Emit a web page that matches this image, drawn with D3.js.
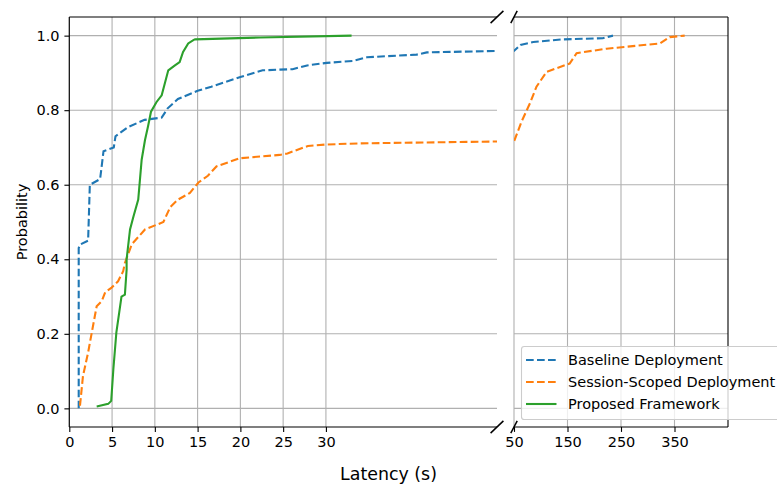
<!DOCTYPE html>
<html>
<head>
<meta charset="utf-8">
<script src="https://cdn.jsdelivr.net/npm/d3@7"></script>
<style>
  body { margin: 0; background: #fff; overflow: hidden; }
  text { font-family: "DejaVu Sans", sans-serif; }
</style>
</head>
<body>
<script>
// ECDF points: [latency (s), probability]
var baseline = [[1.1,0],[1.1,0.43],[1.3,0.44],[2.2,0.45],[2.4,0.60],[3.6,0.615],[4.0,0.69],[5.2,0.70],
  [5.4,0.73],[6.9,0.755],[8.8,0.774],[10.8,0.78],[11.5,0.805],[12.7,0.83],[15.0,0.852],[16.6,0.863],
  [18.2,0.875],[20.0,0.889],[22.6,0.907],[26.1,0.91],[27.8,0.92],[30.1,0.927],[33.1,0.932],[34.8,0.942],
  [40.6,0.949],[41.8,0.955],[50,0.959],[62,0.975],[86,0.983],[141,0.99],[216,0.993],[235,1.0]]
var sessionScoped = [[1.25,0.007],[1.6,0.087],[2.2,0.15],[2.6,0.2],[3.2,0.274],[3.8,0.288],[4.2,0.312],
  [4.95,0.324],[5.7,0.341],[6.3,0.368],[6.5,0.39],[7.3,0.44],[8.85,0.48],[11.0,0.50],[11.8,0.54],
  [12.7,0.56],[14.1,0.578],[15.1,0.606],[16.2,0.624],[17.2,0.649],[19.9,0.671],[24.6,0.68],[25.5,0.684],
  [27.9,0.704],[30.1,0.708],[34,0.711],[50,0.716],[64,0.769],[80,0.819],[92,0.863],[111,0.903],
  [154,0.925],[167,0.953],[223,0.965],[323,0.979],[341,0.996],[369,1.0]]
var proposed = [[3.2,0.005],[4.55,0.012],[4.9,0.02],[5.15,0.105],[5.5,0.203],[6.1,0.30],[6.5,0.305],
  [6.7,0.372],[6.7,0.40],[7.1,0.48],[7.5,0.515],[8.06,0.56],[8.46,0.667],[8.85,0.72],[9.2,0.756],
  [9.55,0.796],[10.2,0.822],[10.8,0.84],[11.57,0.907],[12.35,0.92],[12.9,0.929],[13.3,0.956],
  [13.9,0.979],[14.5,0.988],[14.7,0.99],[22.3,0.995],[33,1.0]]

var seriesNames = ["Baseline Deployment", "Session-Scoped Deployment", "Proposed Framework"]
var seriesData = [baseline, sessionScoped, proposed]
var seriesColors = ["#1f77b4", "#ff7f0e", "#2ca02c"]
var seriesDash = ["7.7,3.3", "7.7,3.3", null]

var leftTicks = [0, 5, 10, 15, 20, 25, 30]
var rightTicks = [50, 150, 250, 350]
var yTicks = [0, 0.2, 0.4, 0.6, 0.8, 1.0]

var fs = 14.5
var yTop = 17, yBottom = 427
var svg = d3.select("body").append("svg")
  .attr("width", 777)
  .attr("height", 485)

var y = d3.scaleLinear().domain([-0.05, 1.05]).range([yBottom, yTop])

var panels = [
  { id: "left", x: d3.scaleLinear().domain([0, 50]).range([69.3, 497]), ticks: leftTicks },
  { id: "right", x: d3.scaleLinear().domain([50, 450]).range([514, 728]), ticks: rightTicks }
]

panels.forEach(function (p) {
  var r = p.x.range()
  svg.append("clipPath").attr("id", "clip-" + p.id)
    .append("rect").attr("x", r[0]).attr("y", yTop).attr("width", r[1] - r[0]).attr("height", yBottom - yTop)

  // grid
  var g = svg.append("g")
  g.selectAll(".vg").data(p.ticks).enter().append("line")
    .attr("x1", d => p.x(d)).attr("x2", d => p.x(d))
    .attr("y1", yTop).attr("y2", yBottom)
    .attr("stroke", "#b0b0b0").attr("stroke-width", 1.1)
  g.selectAll(".hg").data(yTicks).enter().append("line")
    .attr("x1", r[0]).attr("x2", r[1])
    .attr("y1", d => y(d)).attr("y2", d => y(d))
    .attr("stroke", "#b0b0b0").attr("stroke-width", 1.1)

  // lines
  var line = d3.line().x(d => p.x(d[0])).y(d => y(d[1]))
  var lg = svg.append("g").attr("clip-path", "url(#clip-" + p.id + ")")
  seriesData.forEach(function (s, i) {
    lg.append("path").datum(s)
      .attr("d", line)
      .attr("fill", "none")
      .attr("stroke", seriesColors[i])
      .attr("stroke-width", 2.1)
      .attr("stroke-dasharray", seriesDash[i])
  })

  // x axis
  var ax = svg.append("g")
    .attr("transform", "translate(0," + yBottom + ")")
    .call(d3.axisBottom(p.x).tickValues(p.ticks).tickSizeOuter(0).tickSize(4.9).tickPadding(4.9)
      .tickFormat(d3.format("d")))
  ax.select(".domain").remove()
  ax.selectAll(".tick line").attr("stroke-width", 1.1)
  ax.selectAll("text").attr("font-size", fs).attr("fill", "#000")

  // spines
  svg.append("line").attr("x1", r[0]).attr("x2", r[1]).attr("y1", yTop).attr("y2", yTop)
    .attr("stroke", "#000").attr("stroke-width", 1.1)
  svg.append("line").attr("x1", r[0]).attr("x2", r[1]).attr("y1", yBottom).attr("y2", yBottom)
    .attr("stroke", "#000").attr("stroke-width", 1.1)
  var sx = p.id == "left" ? r[0] : r[1]
  svg.append("line").attr("x1", sx).attr("x2", sx).attr("y1", yTop).attr("y2", yBottom)
    .attr("stroke", "#000").attr("stroke-width", 1.1)

  // break marks
  var bx = p.id == "left" ? r[1] : r[0]
  var dx = (r[1] - r[0]) * 0.015, dy = (yBottom - yTop) * 0.015
  ;[yTop, yBottom].forEach(function (by) {
    svg.append("line")
      .attr("x1", bx - dx).attr("y1", by + dy)
      .attr("x2", bx + dx).attr("y2", by - dy)
      .attr("stroke", "#000").attr("stroke-width", 1.5)
  })
})

// y axis on left panel
var ay = svg.append("g")
  .attr("transform", "translate(69.3,0)")
  .call(d3.axisLeft(y).tickValues(yTicks).tickSizeOuter(0).tickSize(4.9).tickPadding(4.9)
    .tickFormat(d3.format(".1f")))
ay.select(".domain").remove()
ay.selectAll(".tick line").attr("stroke-width", 1.1)
ay.selectAll("text").attr("font-size", fs).attr("fill", "#000")

// labels
svg.append("text")
  .attr("x", 388.5).attr("y", 480)
  .attr("text-anchor", "middle")
  .attr("font-size", 17.4)
  .text("Latency (s)")
svg.append("text")
  .attr("transform", "translate(27," + ((yTop + yBottom) / 2) + ") rotate(-90)")
  .attr("text-anchor", "middle")
  .attr("font-size", fs)
  .text("Probability")

// legend
var leg = svg.append("g")
var box = leg.append("rect")
  .attr("x", 521.5).attr("y", 346.5).attr("height", 73).attr("rx", 2.8)
  .attr("fill", "#fff").attr("fill-opacity", 0.8)
  .attr("stroke", "#cccccc").attr("stroke-width", 1.1)
var maxW = 0
seriesNames.forEach(function (name, i) {
  var ly = 360 + i * 22
  leg.append("line")
    .attr("x1", 526).attr("x2", 556.5).attr("y1", ly).attr("y2", ly)
    .attr("stroke", seriesColors[i]).attr("stroke-width", 2.1)
    .attr("stroke-dasharray", seriesDash[i])
  var t = leg.append("text")
    .attr("x", 568).attr("y", ly).attr("dy", "0.35em")
    .attr("font-size", fs).attr("fill", "#000")
    .text(name)
  maxW = Math.max(maxW, t.node().getComputedTextLength())
})
box.attr("width", 568 + maxW + 7 - 521.5)
</script>
</body>
</html>
